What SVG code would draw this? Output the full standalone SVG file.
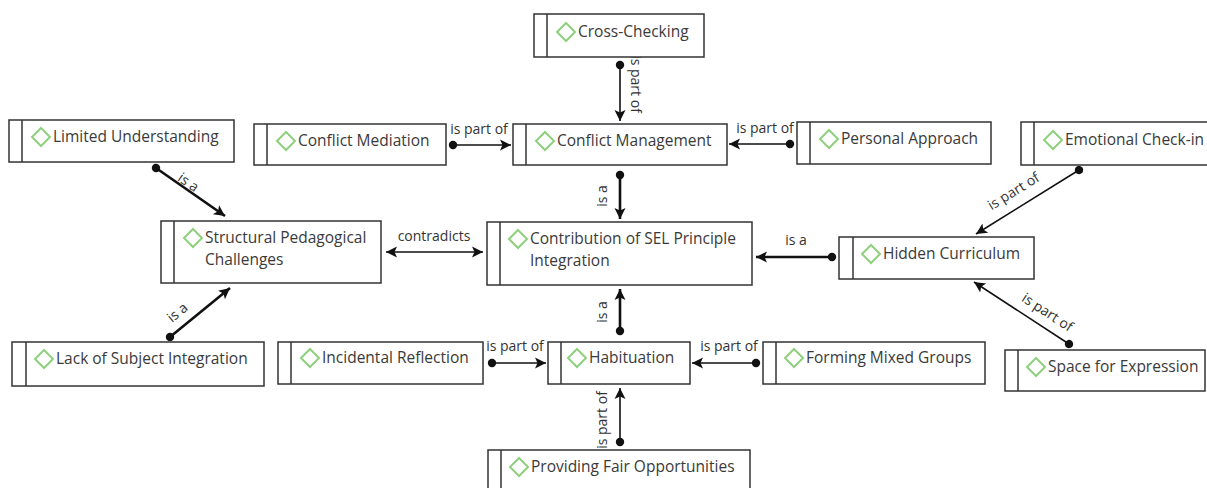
<svg xmlns="http://www.w3.org/2000/svg" width="1207" height="488" viewBox="0 0 1207 488">
<defs>
<style>
.box{fill:#fff;stroke:#333;stroke-width:1.5}
.bar{stroke:#333;stroke-width:1.5}
.ico{fill:none;stroke:#8fd07e;stroke-width:2}
.t{font-family:"Open Sans","Noto Sans",sans-serif;font-size:15.5px;fill:#3a3a3a}
.lb{font-family:"Open Sans","Noto Sans",sans-serif;font-size:14px;fill:#333}
.thin{stroke:#111;stroke-width:1.6;fill:none}
.thick{stroke:#111;stroke-width:2.6;fill:none}
</style>
<marker id="arr" markerUnits="userSpaceOnUse" markerWidth="14" markerHeight="14" refX="11" refY="7" orient="auto"><path d="M0,1.5 L11,7 L0,12.5 L2.5,7 z" fill="#111"/></marker>
<marker id="arrS" markerUnits="userSpaceOnUse" markerWidth="14" markerHeight="14" refX="11" refY="7" orient="auto-start-reverse"><path d="M0,1.5 L11,7 L0,12.5 L2.5,7 z" fill="#111"/></marker>
<marker id="dot" markerUnits="userSpaceOnUse" markerWidth="10" markerHeight="10" refX="5" refY="5" orient="auto"><circle cx="5" cy="5" r="4.2" fill="#111"/></marker>
<path id="dia" d="M0,-9 L9,0 L0,9 L-9,0 z"/>
</defs>

<g id="connectors">
<line class="thin" x1="620" y1="65" x2="620" y2="121" marker-start="url(#dot)" marker-end="url(#arr)"/>
<text class="lb" transform="translate(635,84) rotate(90)" text-anchor="middle" y="4">is part of</text>
<line class="thin" x1="453" y1="145" x2="511" y2="145" marker-start="url(#dot)" marker-end="url(#arr)"/>
<text class="lb" x="479" y="134" text-anchor="middle">is part of</text>
<line class="thin" x1="790" y1="144" x2="729" y2="144" marker-start="url(#dot)" marker-end="url(#arr)"/>
<text class="lb" x="765" y="133" text-anchor="middle">is part of</text>
<line class="thick" x1="620" y1="175" x2="620" y2="219" marker-start="url(#dot)" marker-end="url(#arr)"/>
<text class="lb" transform="translate(603,196) rotate(-90)" text-anchor="middle" y="4">is a</text>
<line class="thick" x1="156" y1="168" x2="225" y2="216" marker-start="url(#dot)" marker-end="url(#arr)"/>
<text class="lb" transform="translate(188,183) rotate(34.8)" text-anchor="middle" y="4">is a</text>
<line class="thick" x1="170" y1="337" x2="230" y2="288" marker-start="url(#dot)" marker-end="url(#arr)"/>
<text class="lb" transform="translate(178,313) rotate(-39)" text-anchor="middle" y="4">is a</text>
<line class="thin" x1="386" y1="252" x2="483" y2="252" marker-start="url(#arrS)" marker-end="url(#arrS)"/>
<text class="lb" x="434" y="241" text-anchor="middle">contradicts</text>
<line class="thick" x1="832" y1="257" x2="756" y2="257" marker-start="url(#dot)" marker-end="url(#arr)"/>
<text class="lb" x="796" y="245" text-anchor="middle">is a</text>
<line class="thin" x1="1079" y1="170" x2="976" y2="234" marker-start="url(#dot)" marker-end="url(#arr)"/>
<text class="lb" transform="translate(1014,192) rotate(-31.8)" text-anchor="middle" y="4">is part of</text>
<line class="thin" x1="1069" y1="344" x2="974" y2="282" marker-start="url(#dot)" marker-end="url(#arr)"/>
<text class="lb" transform="translate(1047,313) rotate(33.1)" text-anchor="middle" y="4">is part of</text>
<line class="thick" x1="620" y1="331" x2="620" y2="289" marker-start="url(#dot)" marker-end="url(#arr)"/>
<text class="lb" transform="translate(603,312) rotate(-90)" text-anchor="middle" y="4">is a</text>
<line class="thin" x1="492" y1="363" x2="546" y2="363" marker-start="url(#dot)" marker-end="url(#arr)"/>
<text class="lb" x="515" y="351" text-anchor="middle">is part of</text>
<line class="thin" x1="756" y1="363" x2="692" y2="363" marker-start="url(#dot)" marker-end="url(#arr)"/>
<text class="lb" x="729" y="351" text-anchor="middle">is part of</text>
<line class="thin" x1="620" y1="442" x2="620" y2="388" marker-start="url(#dot)" marker-end="url(#arr)"/>
<text class="lb" transform="translate(603,420) rotate(-90)" text-anchor="middle" y="4">is part of</text>
</g>

<g id="n-cross-checking">
<rect class="box" x="534" y="14" width="170" height="43"/><line class="bar" x1="547" y1="14" x2="547" y2="57"/>
<use href="#dia" class="ico" x="566" y="32"/><text class="t" x="578" y="37">Cross-Checking</text>
</g>
<g id="n-limited-understanding">
<rect class="box" x="9" y="120" width="225" height="42"/><line class="bar" x1="22" y1="120" x2="22" y2="162"/>
<use href="#dia" class="ico" x="41" y="137"/><text class="t" x="53" y="142">Limited Understanding</text>
</g>
<g id="n-conflict-mediation">
<rect class="box" x="254" y="124" width="192" height="41"/><line class="bar" x1="267" y1="124" x2="267" y2="165"/>
<use href="#dia" class="ico" x="286" y="141"/><text class="t" x="298" y="146">Conflict Mediation</text>
</g>
<g id="n-conflict-management">
<rect class="box" x="513" y="124" width="214" height="41"/><line class="bar" x1="526" y1="124" x2="526" y2="165"/>
<use href="#dia" class="ico" x="545" y="141"/><text class="t" x="557" y="146">Conflict Management</text>
</g>
<g id="n-personal-approach">
<rect class="box" x="797" y="122" width="194" height="42"/><line class="bar" x1="810" y1="122" x2="810" y2="164"/>
<use href="#dia" class="ico" x="829" y="139"/><text class="t" x="841" y="144">Personal Approach</text>
</g>
<g id="n-emotional-check-in">
<rect class="box" x="1021" y="122" width="200" height="43"/><line class="bar" x1="1034" y1="122" x2="1034" y2="165"/>
<use href="#dia" class="ico" x="1053" y="140"/><text class="t" x="1065" y="145">Emotional Check-in</text>
</g>
<g id="n-structural-pedagogical-challenges">
<rect class="box" x="161" y="221" width="220" height="62"/><line class="bar" x1="174" y1="221" x2="174" y2="283"/>
<use href="#dia" class="ico" x="193" y="238"/><text class="t" x="205" y="243">Structural Pedagogical</text><text class="t" x="205" y="265">Challenges</text>
</g>
<g id="n-contribution-sel">
<rect class="box" x="487" y="222" width="265" height="63"/><line class="bar" x1="500" y1="222" x2="500" y2="285"/>
<use href="#dia" class="ico" x="518" y="239"/><text class="t" x="530" y="244">Contribution of SEL Principle</text><text class="t" x="530" y="266">Integration</text>
</g>
<g id="n-hidden-curriculum">
<rect class="box" x="839" y="237" width="195" height="42"/><line class="bar" x1="853" y1="237" x2="853" y2="279"/>
<use href="#dia" class="ico" x="871" y="254"/><text class="t" x="883" y="259">Hidden Curriculum</text>
</g>
<g id="n-lack-of-subject-integration">
<rect class="box" x="12" y="342" width="252" height="44"/><line class="bar" x1="26" y1="342" x2="26" y2="386"/>
<use href="#dia" class="ico" x="44" y="359"/><text class="t" x="56" y="364">Lack of Subject Integration</text>
</g>
<g id="n-incidental-reflection">
<rect class="box" x="278" y="342" width="205" height="42"/><line class="bar" x1="291" y1="342" x2="291" y2="384"/>
<use href="#dia" class="ico" x="310" y="358"/><text class="t" x="322" y="363">Incidental Reflection</text>
</g>
<g id="n-habituation">
<rect class="box" x="548" y="342" width="142" height="42"/><line class="bar" x1="561" y1="342" x2="561" y2="384"/>
<use href="#dia" class="ico" x="577" y="358"/><text class="t" x="589" y="363">Habituation</text>
</g>
<g id="n-forming-mixed-groups">
<rect class="box" x="763" y="342" width="222" height="42"/><line class="bar" x1="776" y1="342" x2="776" y2="384"/>
<use href="#dia" class="ico" x="794" y="358"/><text class="t" x="806" y="363">Forming Mixed Groups</text>
</g>
<g id="n-space-for-expression">
<rect class="box" x="1005" y="350" width="200" height="41"/><line class="bar" x1="1018" y1="350" x2="1018" y2="391"/>
<use href="#dia" class="ico" x="1036" y="367"/><text class="t" x="1048" y="372">Space for Expression</text>
</g>
<g id="n-providing-fair-opportunities">
<rect class="box" x="488" y="450" width="262" height="45"/><line class="bar" x1="501" y1="450" x2="501" y2="495"/>
<use href="#dia" class="ico" x="519" y="467"/><text class="t" x="531" y="472">Providing Fair Opportunities</text>
</g>
</svg>
